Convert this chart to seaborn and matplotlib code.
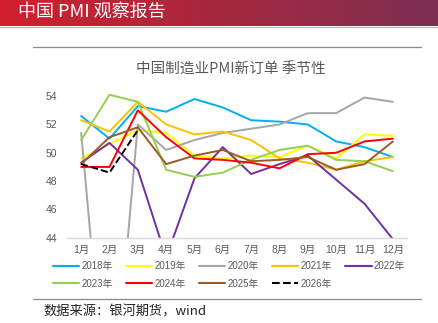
import numpy as np
import pandas as pd
import matplotlib
matplotlib.use("Agg")
import matplotlib.pyplot as plt
from matplotlib.lines import Line2D
import seaborn as sns

months = [1, 2, 3, 4, 5, 6, 7, 8, 9, 10, 11, 12]
month_labels = ["1月", "2月", "3月", "4月", "5月", "6月", "7月", "8月", "9月", "10月", "11月", "12月"]

y2018 = [52.6, 51.0, 53.3, 52.9, 53.8, 53.2, 52.3, 52.2, 52.0, 50.8, 50.4, 49.7]
y2019 = [49.6, 50.6, 51.6, 51.4, 49.8, 49.6, 49.8, 49.7, 50.5, 49.6, 51.3, 51.2]
y2020 = [51.4, 29.3, 52.0, 50.2, 50.9, 51.4, 51.7, 52.0, 52.8, 52.8, 53.9, 53.6]
y2021 = [52.3, 51.5, 53.6, 52.0, 51.3, 51.5, 50.9, 49.6, 49.3, 48.8, 49.4, 49.7]
y2022 = [49.3, 50.7, 48.8, 42.6, 48.2, 50.4, 48.5, 49.2, 49.8, 48.1, 46.4, 43.9]
y2023 = [50.9, 54.1, 53.6, 48.8, 48.3, 48.6, 49.5, 50.2, 50.5, 49.5, 49.4, 48.7]
y2024 = [49.0, 49.0, 53.0, 51.1, 49.6, 49.5, 49.3, 48.9, 49.9, 50.0, 50.8, 51.0]
y2025 = [49.2, 51.1, 51.8, 49.2, 49.8, 50.2, 49.4, 49.5, 49.7, 48.8, 49.2, 50.8]
y2026 = [49.2, 48.6, 51.6]

series = {
    "2018年": y2018, "2019年": y2019, "2020年": y2020, "2021年": y2021,
    "2022年": y2022, "2023年": y2023, "2024年": y2024, "2025年": y2025,
    "2026年": y2026,
}
colors = {
    "2018年": "#00b0f0", "2019年": "#ffff00", "2020年": "#a5a5a5",
    "2021年": "#ffc000", "2022年": "#7030a0", "2023年": "#92d050",
    "2024年": "#ff0000", "2025年": "#9c5a24", "2026年": "#000000",
}

rows = []
for name, vals in series.items():
    for m, v in zip(months, vals):
        rows.append({"year": name, "month": m, "value": v})
df = pd.DataFrame(rows)

sns.set_theme(style="white")
plt.rcParams["font.family"] = ["Liberation Sans Narrow", "Liberation Sans", "Noto Sans CJK SC", "DejaVu Sans"]

W, H = 438, 323
fig = plt.figure(figsize=(W / 100, H / 100), dpi=100)
fig.patch.set_facecolor("white")

# header band
hax = fig.add_axes([0, 1 - 26 / H, 1, 26 / H])
grad = np.linspace(0, 1, 256)
c0 = np.array([208, 32, 44]) / 255
c1 = np.array([124, 48, 82]) / 255
img = (c0[None, :] * (1 - grad[:, None]) + c1[None, :] * grad[:, None])[None, :, :]
hax.imshow(img, aspect="auto", extent=[0, 1, 0, 1])
hax.axis("off")
fig.text(18 / W, 1 - 12 / H, "中国 PMI 观察报告", color="white", fontsize=13,
         fontweight="medium", family=["Noto Sans CJK SC", "DejaVu Sans"], va="center", ha="left")
fig.add_artist(Line2D([0, 1], [1 - 26.5 / H, 1 - 26.5 / H], transform=fig.transFigure,
                      color="#e8a0a8", lw=0.8))

# separator lines
fig.add_artist(Line2D([33 / W, 421 / W], [1 - 47.3 / H, 1 - 47.3 / H],
                      transform=fig.transFigure, color="#8c8c8c", lw=0.9))
fig.add_artist(Line2D([33 / W, 421 / W], [1 - 299.3 / H, 1 - 299.3 / H],
                      transform=fig.transFigure, color="#8c8c8c", lw=0.9))

# main axes
ax = fig.add_axes([67 / W, (H - 237.7) / H, (407 - 67) / W, (237.7 - 82.0) / H])
for name in series:
    sub = df[df["year"] == name]
    sns.lineplot(data=sub, x="month", y="value", ax=ax, color=colors[name],
                 linewidth=1.4, linestyle="--" if name == "2026年" else "-",
                 label=name, legend=False)

ax.set_xlim(0.5, 12.5)
ax.set_ylim(44, 55)
ax.set_yticks([44, 46, 48, 50, 52, 54])
ax.set_yticklabels(["44", "46", "48", "50", "52", "54"])
ax.set_xticks(months)
ax.set_xticklabels(month_labels)
ax.set_xlabel("")
ax.set_ylabel("")
for s in ["top", "right", "left"]:
    ax.spines[s].set_visible(False)
ax.spines["bottom"].set_color("#d9d9d9")
ax.spines["bottom"].set_linewidth(1.0)
ax.tick_params(axis="both", length=0, colors="#595959", labelsize=7.5)
ax.tick_params(axis="y", pad=7)
ax.tick_params(axis="x", pad=5)
ax.patch.set_alpha(0)

fig.text(231 / W, 1 - 70 / H, "中国制造业PMI新订单 季节性", ha="center", va="center",
         fontsize=10.5, color="#595959", family=["Noto Sans CJK SC", "DejaVu Sans"])

# legend (row-major order)
handles = {name: Line2D([], [], color=colors[name], lw=1.5,
                        linestyle="--" if name == "2026年" else "-") for name in series}
order = ["2018年", "2023年", "2019年", "2024年", "2020年", "2025年", "2021年", "2026年", "2022年"]
leg = fig.legend([handles[n] for n in order], order, loc="center",
                 bbox_to_anchor=(229 / W, 1 - 275 / H), ncol=5, frameon=False,
                 fontsize=7, handlelength=2.7, handletextpad=0.25, columnspacing=1.35,
                 labelspacing=0.75)
for t in leg.get_texts():
    t.set_color("#595959")

fig.text(43 / W, 1 - 312 / H, "数据来源：银河期货，wind", ha="left", va="center",
         fontsize=9.5, color="#222222", family=["Noto Sans CJK SC", "DejaVu Sans"])

fig.savefig("out.png", dpi=100)
